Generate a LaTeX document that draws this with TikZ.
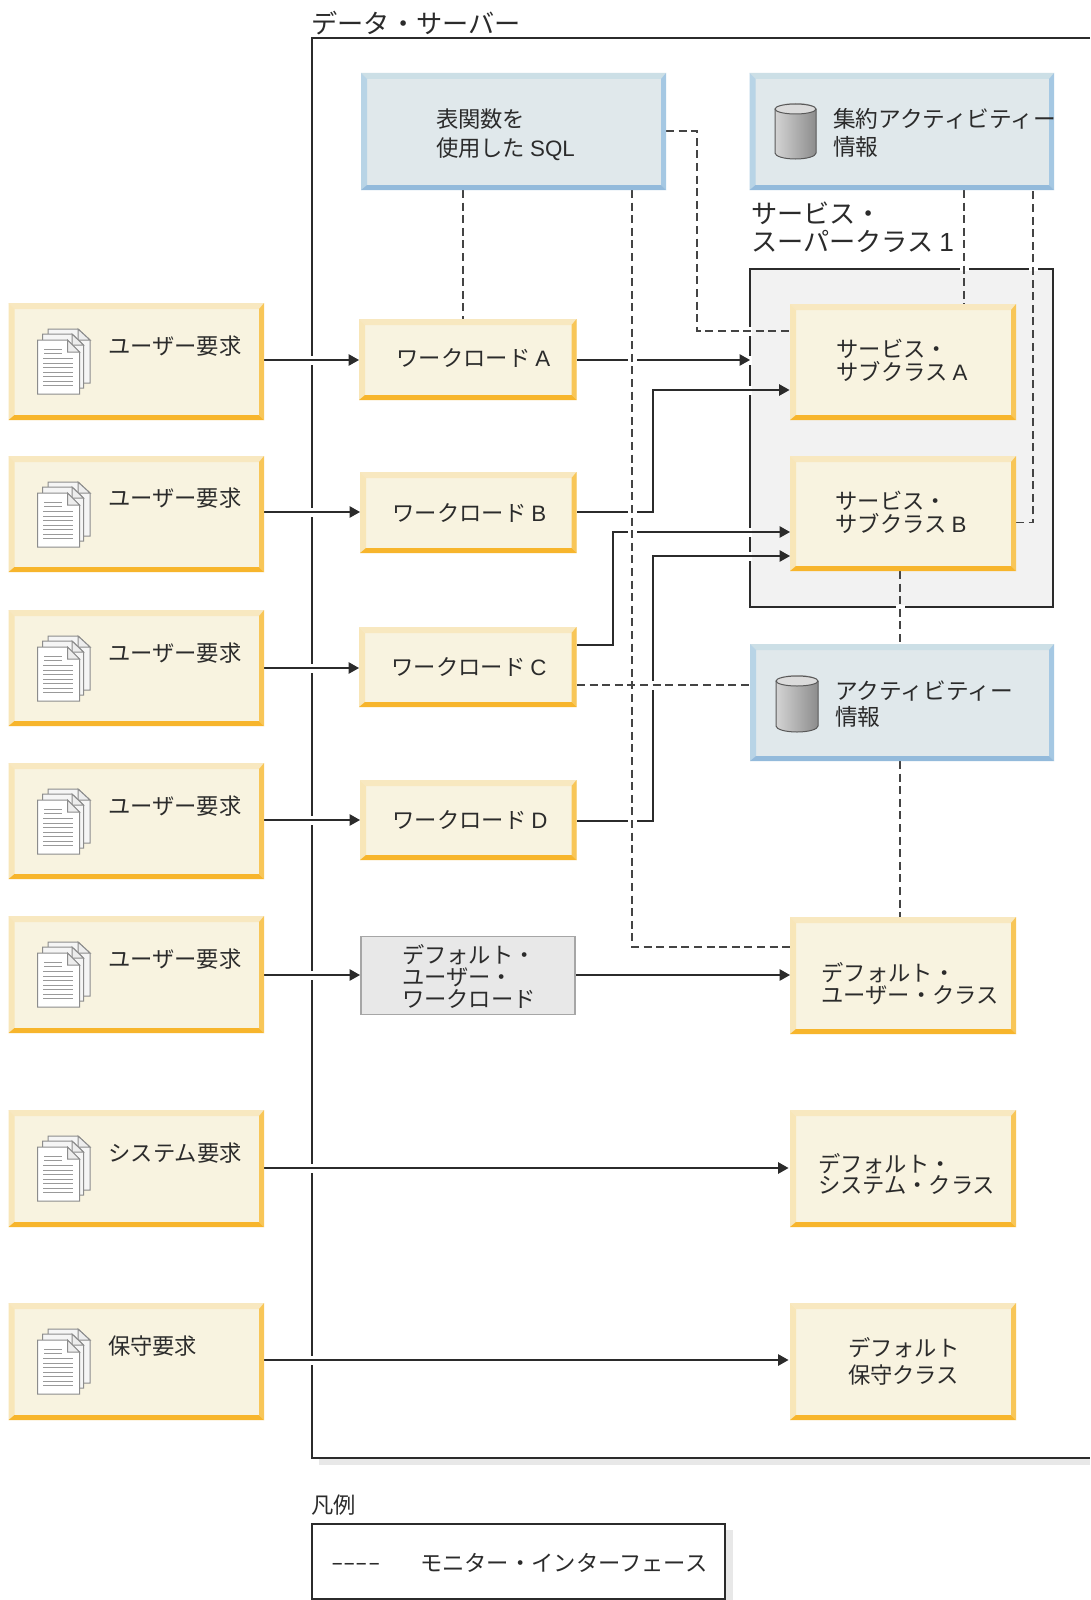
\documentclass[tikz,border=0pt]{standalone}
\usepackage{fontspec}
\setmainfont{Noto Sans CJK JP}
\newfontfamily\latinf{Liberation Sans}
\usetikzlibrary{arrows.meta}
\definecolor{yelL}{HTML}{F8E6B8}
\definecolor{yelT}{HTML}{F8E8C0}
\definecolor{yelR}{HTML}{F8C658}
\definecolor{yelB}{HTML}{F7B52C}
\definecolor{yelF}{HTML}{F8F3E0}
\definecolor{bluL}{HTML}{B8D4E6}
\definecolor{bluT}{HTML}{CCDFE6}
\definecolor{bluR}{HTML}{A5C8E3}
\definecolor{bluB}{HTML}{93BADB}
\definecolor{bluF}{HTML}{E0E8EB}
\definecolor{ink}{HTML}{2B2B2B}
\definecolor{dashc}{HTML}{444444}
\definecolor{shadowc}{HTML}{E8E8E8}
\tikzset{
  x=1pt,y=-1pt,
  lbl/.style={anchor=west,inner sep=0pt,outer sep=0pt,align=left,text=ink,font=\fontsize{22.3}{23}\selectfont},
  lblbig/.style={lbl,font=\fontsize{26.2}{28}\selectfont},
  conn/.style={draw=ink,line width=1.4pt,-{Triangle[length=10.5pt,width=11.5pt]}},
  mon/.style={draw=dashc,line width=1.4pt,dash pattern=on 8pt off 4.6pt},
  page/.style={draw=black!45,line width=1pt,fill=white},
  fold/.style={draw=black!45,line width=1pt,fill=black!7},
  rule/.style={draw=black!40,line width=1pt}
}
% gap in a vertical line crossed by a horizontal one, and the reverse
\newcommand{\gapV}[2]{\fill[white] ({#1-1.6},{#2-4.5}) rectangle ({#1+1.6},{#2+4.5});}
\newcommand{\gapH}[2]{\fill[white] ({#1-4.5},{#2-1.6}) rectangle ({#1+4.5},{#2+1.6});}
% name, x0,y0,x1,y1, colour prefix
\newcommand{\bevelbox}[6]{%
  \node[inner sep=0pt,outer sep=0pt,minimum width=#4pt-#2pt,minimum height=#5pt-#3pt,fill=#6F] (#1) at ({(#2+#4)/2},{(#3+#5)/2}) {};
  \fill[#6T] (#2,#3) -- (#4,#3) -- (#4-5,#3+6) -- (#2+6,#3+6) -- cycle;
  \fill[#6L] (#2,#3) -- (#2+6,#3+6) -- (#2+6,#5-5) -- (#2,#5) -- cycle;
  \fill[#6R] (#4,#3) -- (#4,#5) -- (#4-5,#5-5) -- (#4-5,#3+6) -- cycle;
  \fill[#6B] (#2,#5) -- (#4,#5) -- (#4-5,#5-5) -- (#2+6,#5-5) -- cycle;
}
% pages icon, y = top of the box
\newcommand{\docicon}[1]{%
  \begin{scope}[yshift=-#1pt]
    \draw[page,fill=black!4] (48,26) -- (78,26) -- (90,37) -- (90,80) -- (48,80) -- cycle;
    \draw[fold] (78,26) -- (90,37) -- (78,37) -- cycle;
    \draw[page,fill=black!4] (42.5,31) -- (72,31) -- (83.5,42) -- (83.5,85) -- (42.5,85) -- cycle;
    \draw[fold] (72,31) -- (83.5,42) -- (72,42) -- cycle;
    \draw[page] (37.5,37) -- (67.5,37) -- (79.5,49) -- (79.5,91) -- (37.5,91) -- cycle;
    \draw[fold] (67.5,37) -- (79.5,49) -- (67.5,49) -- cycle;
    \foreach \yy in {46,50.5} \draw[rule] (44,\yy) -- (62,\yy);
    \foreach \yy in {55.5,60,64.5,69,73.5,78,82.5} \draw[rule] (43,\yy) -- (73,\yy);
  \end{scope}
}
% cylinder x0,y0,x1,y1
\newcommand{\cyl}[4]{%
  \shade[left color=black!17,right color=black!45] (#1,#2+6) -- (#1,#4-6) arc[start angle=180,end angle=0,x radius={(#3-#1)/2},y radius=6] -- (#3,#2+6) arc[start angle=0,end angle=-180,x radius={(#3-#1)/2},y radius=6] -- cycle;
  \draw[black!65,line width=1pt,fill=black!14] ({(#1+#3)/2},#2+6) ellipse[x radius={(#3-#1)/2},y radius=5];
  \draw[black!65,line width=1pt] (#1,#2+6) -- (#1,#4-6) arc[start angle=180,end angle=0,x radius={(#3-#1)/2},y radius=6] -- (#3,#2+6);
}
\begin{document}
\begin{tikzpicture}
\useasboundingbox (0,0) rectangle (1090,1600);
\fill[white] (0,0) rectangle (1090,1600);
% server frame
\fill[shadowc] (319,1458) rectangle (1090,1465);
\fill[white] (312,38) rectangle (1090,1458);
\draw[ink,line width=1.2pt] (1090,38) -- (312,38) -- (312,1458) -- (1090,1458);
\node[lblbig] (title) at (311.5,23) {データ・サーバー};
% legend
\fill[shadowc] (725,1530) rectangle (733,1600);
\draw[ink,line width=1.2pt,fill=white] (312,1600) -- (312,1524) -- (725,1524) -- (725,1599) -- (312,1599);
\node[lbl] (legendtitle) at (311.5,1505) {凡例};
\node[lbl,xscale=1.6] (legenddash) at (331,1567) {{-}{-}{-}{-}};
\node[lbl] (legendtext) at (420,1563) {モニター・インターフェース};
% super class
\node[inner sep=0pt,outer sep=0pt,draw=ink,line width=1.2pt,fill=black!5,minimum width=303pt,minimum height=338pt] (sc) at (901.5,438) {};
\node[lblbig] (sclabel) at (751,227) {サービス・\\スーパークラス {\latinf 1}};
% gaps left in the frames by the connectors
\foreach \yy in {360,512,668,820,975,1168,1360} {\gapV{312}{\yy}}
\foreach \yy in {360,390,532,556} {\gapV{750}{\yy}}
% end points of the connectors on the boxes that are drawn over them
\coordinate (req1) at (264,360); \coordinate (req2) at (264,512); \coordinate (req3) at (264,668);
\coordinate (req4) at (264,820); \coordinate (req5) at (264,975); \coordinate (req6) at (264,1168); \coordinate (req7) at (264,1360);
\coordinate (waE) at (577,360); \coordinate (waW) at (359,360); \coordinate (wbE) at (577,512); \coordinate (wbW) at (360,512);
\coordinate (wcE) at (577,645); \coordinate (wcW) at (359,668); \coordinate (wdE) at (577,821); \coordinate (wdW) at (360,820);
\coordinate (wxW) at (360,975); \coordinate (wxE) at (576,975);
\coordinate (saW) at (789.5,390); \coordinate (sbW1) at (790,532); \coordinate (sbW2) at (790,556);
\coordinate (duW) at (790,975); \coordinate (dsW) at (788.5,1168); \coordinate (dmW) at (788.5,1360);
% solid connectors
\draw[conn] (req1) -- (waW);
\draw[conn] (req2) -- (wbW);
\draw[conn] (req3) -- (wcW);
\draw[conn] (req4) -- (wdW);
\draw[conn] (req5) -- (wxW);
\draw[conn] (req6) -- (dsW);
\draw[conn] (req7) -- (dmW);
\draw[conn] (waE) -- (waE -| sc.west);
\draw[conn] (wbE) -- (653,512) -- (653,390) -- (saW);
\draw[conn] (wcE) -- (613,645) -- (613,532) -- (sbW1);
\draw[conn] (wdE) -- (653,821) -- (653,556) -- (sbW2);
\draw[conn] (wxE) -- (duW);
% gaps left by the monitor lines
\foreach \yy in {360,512,532,821} {\gapH{632}{\yy}}
\gapH{964}{269}\gapH{1033}{269}\gapH{900}{607}
\gapV{653}{685}\gapV{750}{331}
% monitor connectors
\draw[mon] (463,190) -- (463,319);
\draw[mon] (666,131) -- (697,131) -- (697,331) -- (790,331);
\draw[mon] (632,190) -- (632,947) -- (790,947);
\draw[mon] (964,190) -- (964,304);
\draw[mon] (1016,522.5) -- (1033,522.5) -- (1033,190);
\draw[mon] (900,571) -- (900,644);
\draw[mon] (900,761) -- (900,917);
\draw[mon] (577,685) -- (750,685);
% request boxes
\bevelbox{r1}{8.5}{303}{264}{420}{yel}
\bevelbox{r2}{8.5}{456}{264}{572}{yel}
\bevelbox{r3}{8.5}{610}{264}{726}{yel}
\bevelbox{r4}{8.5}{763}{264}{879}{yel}
\bevelbox{r5}{8.5}{916}{264}{1033}{yel}
\bevelbox{r6}{8.5}{1110}{264}{1227}{yel}
\bevelbox{r7}{8.5}{1303}{264}{1420}{yel}
\docicon{303}\docicon{456}\docicon{610}\docicon{763}\docicon{916}\docicon{1110}\docicon{1303}
\node[lbl] (t1) at (108,346) {ユーザー要求};
\node[lbl] (t2) at (108,498) {ユーザー要求};
\node[lbl] (t3) at (108,653) {ユーザー要求};
\node[lbl] (t4) at (108,806) {ユーザー要求};
\node[lbl] (t5) at (108,959) {ユーザー要求};
\node[lbl] (t6) at (108.5,1153) {システム要求};
\node[lbl] (t7) at (108,1346) {保守要求};
% workloads
\bevelbox{wa}{359}{319}{576.5}{400}{yel}
\bevelbox{wb}{360}{472}{576.5}{553}{yel}
\bevelbox{wc}{359}{627}{576.5}{707}{yel}
\bevelbox{wd}{360}{780}{576.5}{860}{yel}
\node[inner sep=0pt,outer sep=0pt,draw=black!35,line width=1.3pt,fill=black!9,minimum width=214pt,minimum height=78pt] (wx) at (468,975.5) {};
\node[lbl] (ta) at (396.5,358) {ワークロード {\latinf A}};
\node[lbl] (tb) at (392.5,513) {ワークロード {\latinf B}};
\node[lbl] (tc) at (391.5,667) {ワークロード {\latinf C}};
\node[lbl] (td) at (392.5,820) {ワークロード {\latinf D}};
\node[lbl,font=\fontsize{22.3}{22}\selectfont] (tx) at (402,976) {デフォルト・\\ユーザー・\\ワークロード};
% blue boxes
\bevelbox{sql}{361}{73}{666}{190}{blu}
\bevelbox{agg}{749.5}{73}{1054}{190}{blu}
\bevelbox{act}{750}{644}{1054}{761}{blu}
\cyl{775}{103}{816}{159}
\cyl{776}{675}{818}{732}
\node[lbl,font=\fontsize{22.3}{29}\selectfont] (tsql) at (436,135) {表関数を\\使用した {\latinf SQL}};
\node[lbl,font=\fontsize{22.7}{28.5}\selectfont] (tagg) at (833,133) {集約アクティビティー\\情報};
\node[lbl,font=\fontsize{22.7}{26.5}\selectfont] (tact) at (835,704) {アクティビティー\\情報};
% classes
\bevelbox{sa}{790}{304}{1016}{420}{yel}
\bevelbox{sb}{790}{456}{1016}{571}{yel}
\bevelbox{du}{790}{917}{1016}{1034}{yel}
\bevelbox{ds}{790}{1110}{1016}{1227}{yel}
\bevelbox{dm}{790}{1303}{1016}{1420}{yel}
\node[lbl] (tsa) at (836.5,360) {サービス・\\サブクラス {\latinf A}};
\node[lbl] (tsb) at (835.5,512) {サービス・\\サブクラス {\latinf B}};
\node[lbl,font=\fontsize{22.3}{21.5}\selectfont] (tdu) at (821.5,983.5) {デフォルト・\\ユーザー・クラス};
\node[lbl,font=\fontsize{22.3}{21.5}\selectfont] (tds) at (818,1174) {デフォルト・\\システム・クラス};
\node[lbl,font=\fontsize{22.3}{27}\selectfont] (tdm) at (848,1361.5) {デフォルト\\保守クラス};
\end{tikzpicture}
\end{document}
